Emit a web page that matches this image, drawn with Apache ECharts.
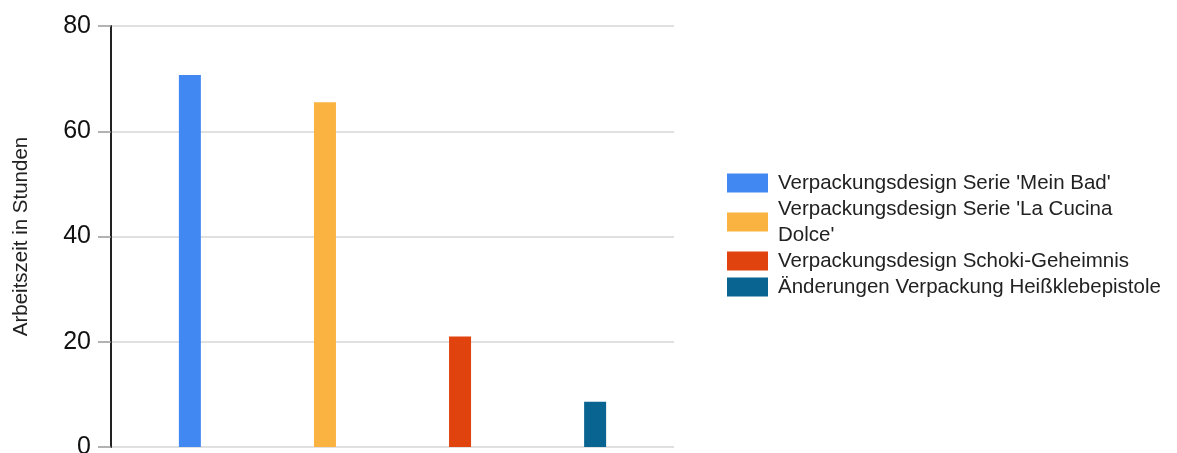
<!DOCTYPE html>
<html>
<head>
<meta charset="utf-8">
<script src="https://cdn.jsdelivr.net/npm/echarts@6/dist/echarts.min.js"></script>
<style>html,body{margin:0;padding:0;background:#fff}#c{width:1177px;height:453px}</style>
</head>
<body>
<div id="c"></div>
<script>
const categories = [''];
const seriesNames = [
  "Verpackungsdesign Serie 'Mein Bad'",
  "Verpackungsdesign Serie 'La Cucina Dolce'",
  "Verpackungsdesign Schoki-Geheimnis",
  "Änderungen Verpackung Heißklebepistole"
];
const seriesValues = [70.7, 65.5, 21, 8.6];
const seriesColors = ['#4288f2', '#fab341', '#e0430e', '#0a6491'];
const yTicks = [0, 20, 40, 60, 80];
const yTitle = 'Arbeitszeit in Stunden';

const font = "'Liberation Sans', Arial, sans-serif";
const legendFontSize = 20.5;
const legendMaxWidth = 390;

const measureCtx = document.createElement('canvas').getContext('2d');
measureCtx.font = legendFontSize + 'px ' + font;
function wrapLabel(text) {
  const words = text.split(' ');
  const lines = [];
  let cur = '';
  words.forEach(w => {
    const test = cur ? cur + ' ' + w : w;
    if (cur && measureCtx.measureText(test).width > legendMaxWidth) {
      lines.push(cur);
      cur = w;
    } else {
      cur = test;
    }
  });
  if (cur) lines.push(cur);
  return lines.join('\n');
}

const chart = echarts.init(document.getElementById('c'), null, {renderer: 'canvas'});
chart.setOption({
  animation: false,
  textStyle: {fontFamily: font},
  grid: {left: 111, right: 503, top: 26, bottom: 6, containLabel: false, outerBoundsMode: 'none'},
  legend: {
    orient: 'vertical',
    left: 722,
    top: 165,
    itemWidth: 41,
    itemHeight: 19,
    itemGap: 0,
    icon: 'rect',
    data: seriesNames,
    formatter: wrapLabel,
    textStyle: {
      fontFamily: font, fontSize: legendFontSize, color: '#222', lineHeight: 26,
      padding: [0, 0, 0, 5]
    }
  },
  xAxis: {
    type: 'category',
    data: categories,
    axisLine: {show: false},
    axisTick: {show: false},
    axisLabel: {show: false}
  },
  yAxis: {
    type: 'value',
    min: yTicks[0],
    max: yTicks[yTicks.length - 1],
    interval: yTicks[1] - yTicks[0],
    name: yTitle,
    nameLocation: 'middle',
    nameGap: 79,
    nameTextStyle: {fontFamily: font, fontSize: 20.5, color: '#222'},
    axisLine: {show: true, lineStyle: {color: '#222', width: 2}},
    axisTick: {show: true, length: 13, lineStyle: {color: '#999', width: 1.5}},
    axisLabel: {margin: 20, fontFamily: font, fontSize: 25, color: '#111'},
    splitLine: {show: true, lineStyle: {color: '#e0e0e0', width: 2}}
  },
  series: seriesNames.map((n, i) => ({
    name: n,
    type: 'bar',
    data: [seriesValues[i]],
    barWidth: 22,
    barGap: '514%',
    itemStyle: {color: seriesColors[i]}
  }))
});
</script>
</body>
</html>
